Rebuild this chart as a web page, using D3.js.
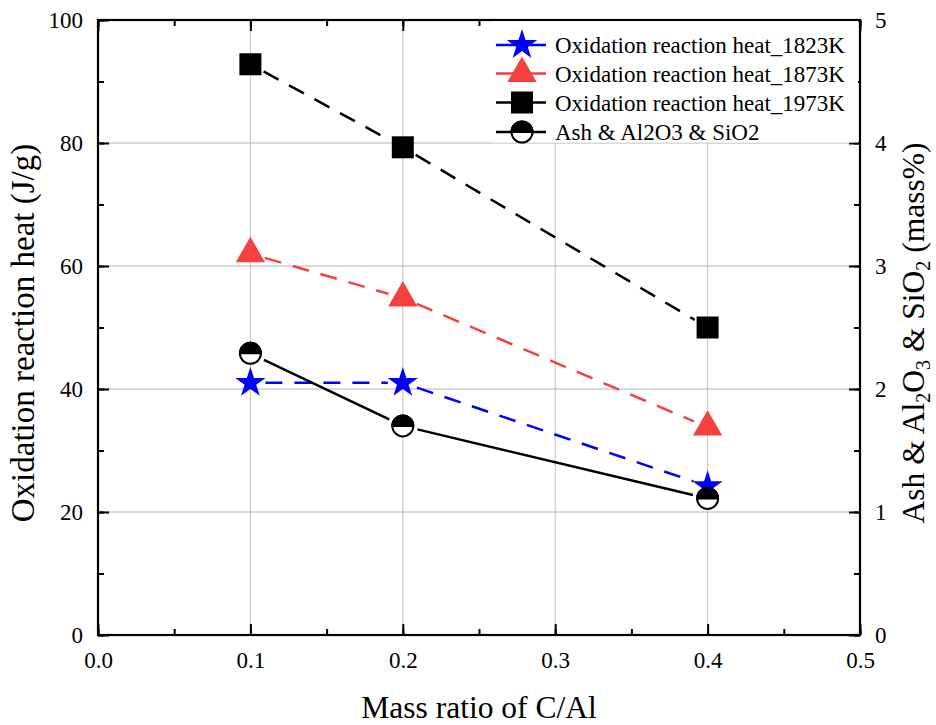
<!DOCTYPE html>
<html><head><meta charset="utf-8">
<script src="https://cdn.jsdelivr.net/npm/d3@7"></script>
<style>body{margin:0;background:#fff}svg{display:block}</style>
</head><body>
<svg id="c" width="936" height="725"></svg>
<script>
const ratios = [0.1, 0.2, 0.4];
const heat1823 = [41.0, 41.0, 24.2];
const heat1873 = [62.0, 54.8, 33.8];
const heat1973 = [92.8, 79.3, 50.0];
const ashContent = [2.29, 1.70, 1.11];
const xTicks = [0.0, 0.1, 0.2, 0.3, 0.4, 0.5];
const yLeftTicks = [0, 20, 40, 60, 80, 100];
const yRightTicks = [0, 1, 2, 3, 4, 5];
const legendLabels = ["Oxidation reaction heat_1823K","Oxidation reaction heat_1873K","Oxidation reaction heat_1973K","Ash & Al2O3 & SiO2"];

const FONT = "Liberation Serif";
const svg = d3.select("#c");
const L=98,R=860,T=20,B=635;
const x = d3.scaleLinear().domain([0,0.5]).range([L,R]);
const y = d3.scaleLinear().domain([0,100]).range([B,T]);
const y2 = d3.scaleLinear().domain([0,5]).range([B,T]);

// grid
const g = svg.append("g");
xTicks.forEach(v=>g.append("line").attr("x1",x(v)).attr("x2",x(v)).attr("y1",T).attr("y2",B).attr("stroke","#c4c4c4").attr("stroke-width",1));
yLeftTicks.forEach(v=>g.append("line").attr("x1",L).attr("x2",R).attr("y1",y(v)).attr("y2",y(v)).attr("stroke","#b4b4b4").attr("stroke-width",1));

const fmtX = d3.format(".1f");
function styleAxis(sel){ sel.attr("font-family",null).attr("font-size",null); sel.select(".domain").remove(); sel.selectAll("line").attr("stroke","#000").attr("stroke-width",2); sel.selectAll("text").style("font-size","23px").style("font-family",FONT).attr("fill","#000"); }
const xMinor = d3.range(0,0.5001,0.05);
svg.append("g").attr("transform",`translate(0,${B})`).call(d3.axisBottom(x).tickValues(xMinor).tickSize(-6).tickFormat("")).call(styleAxis);
svg.append("g").attr("transform",`translate(0,${B})`).call(d3.axisBottom(x).tickValues(xTicks).tickSize(-11).tickPadding(17).tickFormat(fmtX)).call(styleAxis);
svg.append("g").attr("transform",`translate(0,${T})`).call(d3.axisTop(x).tickValues(xMinor).tickSize(-6).tickFormat("")).call(styleAxis);
svg.append("g").attr("transform",`translate(0,${T})`).call(d3.axisTop(x).tickValues(xTicks).tickSize(-11).tickFormat("")).call(styleAxis);
const yMinor = d3.range(0,100.1,10);
svg.append("g").attr("transform",`translate(${L},0)`).call(d3.axisLeft(y).tickValues(yMinor).tickSize(-6).tickFormat("")).call(styleAxis);
svg.append("g").attr("transform",`translate(${L},0)`).call(d3.axisLeft(y).tickValues(yLeftTicks).tickSize(-11).tickPadding(15).tickFormat(d3.format("d"))).call(styleAxis);
const y2Minor = d3.range(0,5.01,0.5);
svg.append("g").attr("transform",`translate(${R},0)`).call(d3.axisRight(y2).tickValues(y2Minor).tickSize(-6).tickFormat("")).call(styleAxis);
svg.append("g").attr("transform",`translate(${R},0)`).call(d3.axisRight(y2).tickValues(yRightTicks).tickSize(-11).tickPadding(15).tickFormat(d3.format("d"))).call(styleAxis);

// frame
svg.append("rect").attr("x",L).attr("y",T).attr("width",R-L).attr("height",B-T).attr("fill","none").attr("stroke","#000").attr("stroke-width",2.2);

// series
const series = [
  {vals:heat1823, sc:y, color:"#0000ff", dash:"17,12", marker:"star"},
  {vals:heat1873, sc:y, color:"#f44040", dash:"17,12", marker:"tri"},
  {vals:heat1973, sc:y, color:"#000000", dash:"17,12", marker:"sq"},
  {vals:ashContent, sc:y2, color:"#000000", dash:null, marker:"half"}
];
function drawMarker(sel, type, cx, cy, color){
  if(type==="star"){
    sel.append("path").attr("d",d3.symbol().type(d3.symbolStar).size(285)()).attr("transform",`translate(${cx},${cy})`).attr("fill",color);
  } else if(type==="tri"){
    sel.append("path").attr("d",d3.symbol().type(d3.symbolTriangle).size(370)()).attr("transform",`translate(${cx},${cy})`).attr("fill",color);
  } else if(type==="sq"){
    sel.append("rect").attr("x",cx-11).attr("y",cy-11).attr("width",22).attr("height",22).attr("fill",color);
  } else {
    const r=10.5;
    sel.append("circle").attr("cx",cx).attr("cy",cy).attr("r",r).attr("fill","#fff").attr("stroke","#000").attr("stroke-width",2);
    sel.append("path").attr("d",`M${cx-r},${cy} A${r},${r} 0 0 1 ${cx+r},${cy} Z`).attr("fill","#000").attr("stroke","#000").attr("stroke-width",2);
  }
}
// line segments with small gaps around markers (Origin style)
const GAP = 15;
series.forEach(s=>{
  const pts = s.vals.map((v,i)=>[x(ratios[i]), s.sc(v)]);
  for(let i=0;i<pts.length-1;i++){
    const [x1,y1]=pts[i],[x2,y2_]=pts[i+1];
    const len=Math.hypot(x2-x1,y2_-y1), ux=(x2-x1)/len, uy=(y2_-y1)/len;
    svg.append("line").attr("x1",x1+ux*GAP).attr("y1",y1+uy*GAP).attr("x2",x2-ux*GAP).attr("y2",y2_-uy*GAP)
      .attr("stroke",s.color).attr("stroke-width",2.5).attr("stroke-dasharray",s.dash);
  }
});
series.forEach(s=>{
  const mg = svg.append("g");
  s.vals.forEach((v,i)=>drawMarker(mg,s.marker,x(ratios[i]),s.sc(v),s.color));
});

// legend
const lg = svg.append("g");
lg.append("rect").attr("x",493).attr("y",21).attr("width",365).attr("height",121.5).attr("fill","#fff");
const rowY=[45,73.5,102.5,132];
series.forEach((s,i)=>{
  lg.append("line").attr("x1",496).attr("x2",546).attr("y1",rowY[i]).attr("y2",rowY[i]).attr("stroke",s.color).attr("stroke-width",2.5);
  drawMarker(lg,s.marker,522,rowY[i],s.color);
  lg.append("text").attr("x",555).attr("y",rowY[i]+8).style("font-size","23px").text(legendLabels[i]);
});

// titles
svg.append("text").attr("x",x(0.25)).attr("y",718).attr("text-anchor","middle").style("font-size","31.5px").text("Mass ratio of C/Al");
svg.append("text").attr("transform",`translate(34,333) rotate(-90)`).attr("text-anchor","middle").style("font-size","33px").text("Oxidation reaction heat (J/g)");
const rt = svg.append("text").attr("transform",`translate(924,333) rotate(-90)`).attr("text-anchor","middle").style("font-size","31.5px");
rt.append("tspan").text("Ash & Al");
rt.append("tspan").attr("dy",6).style("font-size","20px").text("2");
rt.append("tspan").attr("dy",-6).text("O");
rt.append("tspan").attr("dy",6).style("font-size","20px").text("3");
rt.append("tspan").attr("dy",-6).text(" & SiO");
rt.append("tspan").attr("dy",6).style("font-size","20px").text("2");
rt.append("tspan").attr("dy",-6).text(" (mass%)");

svg.selectAll("text").style("font-family",FONT).attr("fill","#000");
</script></body></html>
